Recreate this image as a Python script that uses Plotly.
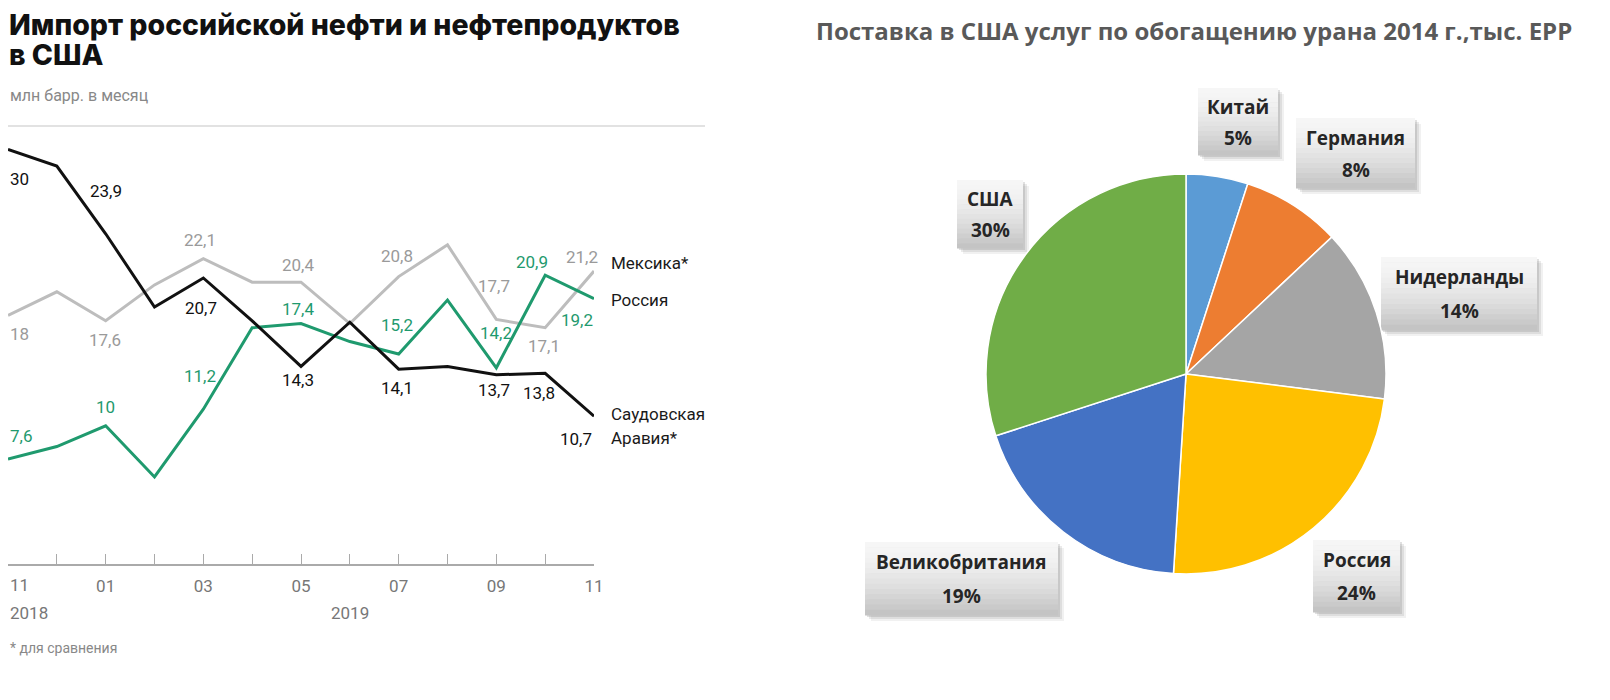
import plotly.graph_objects as go

# data: import to USA, mln barrels per month
months = ["2018-11", "2018-12", "2019-01", "2019-02", "2019-03", "2019-04", "2019-05",
          "2019-06", "2019-07", "2019-08", "2019-09", "2019-10", "2019-11"]
tick_labels = ["11", "", "01", "", "03", "", "05", "", "07", "", "09", "", "11"]
saudi = [30, 28.8, 23.9, 18.6, 20.7, 17.6, 14.3, 17.5, 14.1, 14.3, 13.7, 13.8, 10.7]
mexico = [18, 19.7, 17.6, 20.2, 22.1, 20.4, 20.4, 17.4, 20.8, 23.1, 17.7, 17.1, 21.2]
russia = [7.6, 8.5, 10, 6.3, 11.2, 17.1, 17.4, 16.1, 15.2, 19.1, 14.2, 20.9, 19.2]

# data: uranium enrichment supply to USA 2014, %
countries = ["Китай", "Германия", "Нидерланды", "Россия", "Великобритания", "США"]
shares = [5, 8, 14, 24, 19, 30]

# page body has an 8px margin, so the figure is a bit smaller than the window
OFF = 8
W, H = 1610 - 2 * OFF, 700 - 2 * OFF
FONT = "Roboto"


def px(x):
    return (x - OFF) / W


def py(y):
    return 1 - (y - OFF) / H


# label placement: (index, dx, dy, xanchor)  dy>0 -> downward in pixels
saudi_lbl = [(0, 0, 30, "left"), (2, 0, -43, "center"), (4, -2, 30, "center"),
             (6, -3, 14, "center"), (8, -2, 19, "center"), (10, -2, 15, "center"),
             (11, -6, 20, "center"), (12, 0, 23, "right")]
mexico_lbl = [(0, 0, 19, "left"), (2, -1, 19, "center"), (4, -3, -19, "center"),
              (6, -3, -17, "center"), (8, -2, -21, "center"), (10, -2, -33, "center"),
              (11, -1, 18, "center"), (12, -12, -14, "center")]
russia_lbl = [(0, 0, -23, "left"), (2, 0, -19, "center"), (4, -3, -33, "center"),
              (6, -3, -15, "center"), (8, -2, -29, "center"), (10, 0, -35, "center"),
              (11, -13, -13, "center"), (12, -17, 21, "center")]

series = [
    ("Мексика*", mexico, "#bdbdbd", "#9a9a9a", mexico_lbl),
    ("Россия", russia, "#1f9a6e", "#1f9a6e", russia_lbl),
    ("Саудовская Аравия*", saudi, "#111111", "#111111", saudi_lbl),
]

fig = go.Figure()
annotations = []

for name, vals, col, tcol, lbls in series:
    fig.add_trace(go.Scatter(x=months, y=vals, mode="lines", name=name,
                             line=dict(color=col, width=3), showlegend=False,
                             hoverinfo="x+y"))
    for i, dx, dy, anc in lbls:
        annotations.append(dict(
            x=months[i], y=vals[i], xref="x", yref="y",
            text=f"{vals[i]:g}".replace(".", ","),
            showarrow=False, xanchor=anc, yanchor="middle",
            xshift=dx, yshift=-dy,
            font=dict(family=FONT, size=17, color=tcol)))

# series names at right end
for txt, y in [("Мексика*", 263), ("Россия", 300), ("Саудовская", 414), ("Аравия*", 438)]:
    annotations.append(dict(x=px(609), y=py(y), xref="paper", yref="paper", text=txt,
                            showarrow=False, xanchor="left", yanchor="middle",
                            font=dict(family=FONT, size=17, color="#1a1a1a")))

# first tick label sits at the very edge, so it is left-aligned by hand
axis_font = dict(family=FONT, size=17, color="#777777")
annotations.append(dict(x=0, y=py(585), xref="paper", yref="paper", xanchor="left",
                        yanchor="middle", text=tick_labels[0], showarrow=False,
                        font=axis_font))

# titles and notes for left chart
title_font = dict(family="Inter", size=28.5, weight=800, color="#111111")
for txt, y in [("Импорт российской нефти и нефтепродуктов", 24), ("в США", 54)]:
    annotations.append(dict(x=0, y=py(y), xref="paper", yref="paper", xanchor="left",
                            yanchor="middle", text=txt, showarrow=False, font=title_font,
                            borderpad=0))
annotations += [
    dict(x=0, y=py(95), xref="paper", yref="paper", xanchor="left", yanchor="middle",
         text="млн барр. в месяц", showarrow=False,
         font=dict(family=FONT, size=16, color="#888888")),
    dict(x=0, y=py(613), xref="paper", yref="paper", xanchor="left", yanchor="middle",
         text="2018", showarrow=False, font=axis_font),
    dict(x=months[7], y=py(613), xref="x", yref="paper", xanchor="center", yanchor="middle",
         text="2019", showarrow=False, font=axis_font),
    dict(x=0, y=py(648), xref="paper", yref="paper", xanchor="left", yanchor="middle",
         text="* для сравнения", showarrow=False,
         font=dict(family=FONT, size=14, color="#888888")),
]

# pie chart
cx, cy, r = 1186, 374, 200
fig.add_trace(go.Pie(
    labels=countries, values=shares, sort=False, direction="clockwise", rotation=0,
    marker=dict(colors=["#5b9bd5", "#ed7d31", "#a5a5a5", "#ffc000", "#4472c4", "#70ad47"],
                line=dict(color="white", width=1.5)),
    textinfo="none", showlegend=False,
    domain=dict(x=[px(cx - r), px(cx + r)], y=[py(cy + r), py(cy - r)])))

annotations.append(dict(
    x=px(1194), y=py(31), xref="paper", yref="paper", xanchor="center", yanchor="middle",
    text="<b>Поставка в США услуг по обогащению урана 2014 г.,тыс. ЕРР</b>", showarrow=False,
    font=dict(family="Open Sans", size=24, color="#595959")))

# callout boxes: (x0, y0, x1, y1), same order as countries
boxes = [(1198, 88, 1278, 155), (1296, 118, 1415, 188), (1381, 257, 1537, 330),
         (1313, 540, 1400, 612), (865, 542, 1058, 615), (957, 180, 1023, 248)]
nb = 14
shapes = []
for (x0, y0, x1, y1), name, val in zip(boxes, countries, shares):
    # soft shadow
    for s, op in [(6, 0.12), (4, 0.18), (2, 0.25)]:
        shapes.append(dict(type="rect", xref="paper", yref="paper",
                           x0=px(x0 + s), x1=px(x1 + s), y0=py(y1 + s), y1=py(y0 + s),
                           fillcolor="#888888", opacity=op, line=dict(width=0), layer="below"))
    # vertical gradient fill
    hgt = y1 - y0
    for k in range(nb):
        g = int(246 - 50 * (k / (nb - 1)) ** 1.6)
        shapes.append(dict(type="rect", xref="paper", yref="paper",
                           x0=px(x0), x1=px(x1),
                           y0=py(y0 + hgt * (k + 1) / nb + 0.5), y1=py(y0 + hgt * k / nb),
                           fillcolor=f"rgb({g},{g},{g})", line=dict(width=0), layer="below"))
    xm = (x0 + x1) / 2
    for txt, yy in [(name, y0 + hgt * 0.28), (f"{val}%", y0 + hgt * 0.74)]:
        annotations.append(dict(x=px(xm), y=py(yy), xref="paper", yref="paper",
                                xanchor="center", yanchor="middle", text=f"<b>{txt}</b>",
                                showarrow=False,
                                font=dict(family="Open Sans", size=19, color="#262626")))

# separator line under subtitle
shapes.append(dict(type="line", xref="paper", yref="paper", x0=0, x1=px(705),
                   y0=py(126), y1=py(126), line=dict(color="#d9d9d9", width=1.5)))

fig.update_layout(
    width=W, height=H,
    margin=dict(l=0, r=0, t=0, b=0, autoexpand=False),
    paper_bgcolor="white", plot_bgcolor="white",
    xaxis=dict(type="category", domain=[0, px(594)], range=[0, 12], automargin=False,
               tickvals=months[1:], ticktext=tick_labels[1:], ticks="inside", ticklen=10,
               tickcolor="#aaaaaa", showline=True, linecolor="#aaaaaa", linewidth=1.5,
               showgrid=False, zeroline=False, ticklabelstandoff=6,
               tickfont=axis_font),
    yaxis=dict(domain=[py(564), py(126)], range=[0, 31.7], visible=False, automargin=False),
    annotations=annotations,
    shapes=shapes,
)

fig.write_html("out.html")
